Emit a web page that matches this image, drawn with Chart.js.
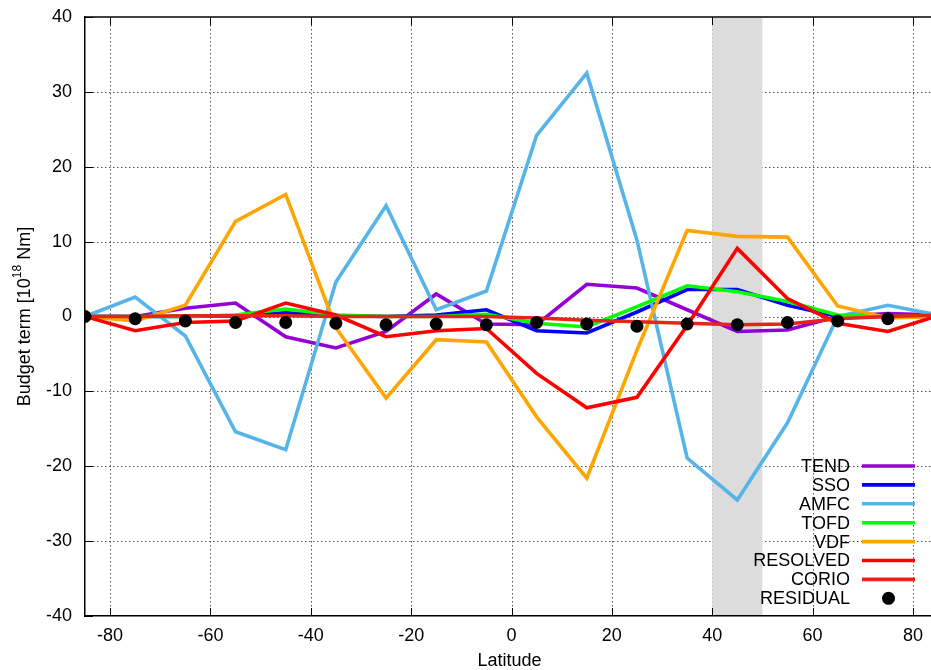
<!DOCTYPE html>
<html>
<head>
<meta charset="utf-8">
<script src="https://cdn.jsdelivr.net/npm/chart.js@4"></script>
<style>
  html, body { margin: 0; padding: 0; background: #fff; overflow: hidden; }
  #wrap { width: 931px; height: 670px; position: relative; }
</style>
</head>
<body>
<div id="wrap"><canvas id="c" width="931" height="670"></canvas></div>
<script>
// Zonal-mean angular momentum budget terms by latitude band
const latitudes = [-85, -75, -65, -55, -45, -35, -25, -15, -5, 5, 15, 25, 35, 45, 55, 65, 75, 85];

const tend     = [0, 0, 1.1, 1.8, -2.7, -4.2, -2.0, 3.0, -1.0, -1.1, 4.3, 3.8, 0.9, -2.0, -1.8, 0, 0.4, 0.2];
const sso      = [0, 0, 0, 0.1, 0.5, 0.1, 0, 0.2, 0.9, -1.9, -2.2, 0.6, 3.6, 3.6, 1.5, 0, 0, 0];
const amfc     = [0, 2.6, -2.6, -15.4, -17.8, 4.6, 14.8, 0.9, 3.4, 24.2, 32.5, 10.2, -18.9, -24.5, -14.2, 0, 1.5, 0.2];
const tofd     = [0, 0, 0, 0.2, 1.0, 0.2, 0, 0, 0.3, -0.9, -1.4, 1.3, 4.1, 3.3, 2.0, 0.2, 0, 0];
const vdf      = [0, -0.6, 1.5, 12.7, 16.3, -1.5, -10.9, -3.1, -3.4, -13.4, -21.6, -4.5, 11.5, 10.7, 10.6, 1.4, -0.2, 0];
const resolved = [0, -1.9, -0.8, -0.6, 1.8, 0.2, -2.7, -1.9, -1.6, -7.6, -12.2, -10.8, -1.2, 9.1, 2.4, -0.9, -2.0, 0.1];
const corio    = [0, 0, 0.1, 0.1, 0.1, 0, 0, 0, 0, -0.2, -0.5, -0.7, -0.9, -1.1, -1.0, -0.3, 0, 0.2];
const residual = [0, -0.3, -0.6, -0.8, -0.8, -0.9, -1.1, -1.0, -1.1, -0.8, -1.0, -1.3, -1.0, -1.1, -0.8, -0.6, -0.3, null];

const xTickValues = [-80, -60, -40, -20, 0, 20, 40, 60, 80];
const yTickValues = [-40, -30, -20, -10, 0, 10, 20, 30, 40];
const shadedBand = [40, 50];

const FONT = '"Liberation Sans", Arial, sans-serif';

const lineSeries = [
  { label: 'TEND',     data: tend,     color: '#9400D3' },
  { label: 'SSO',      data: sso,      color: '#0000FF' },
  { label: 'AMFC',     data: amfc,     color: '#56B4E9' },
  { label: 'TOFD',     data: tofd,     color: '#00FF00' },
  { label: 'VDF',      data: vdf,      color: '#FFA500' },
  { label: 'RESOLVED', data: resolved, color: '#FF0000' },
  { label: 'CORIO',    data: corio,    color: '#E4261A' }
];

const datasets = lineSeries.map((s, i) => ({
  label: s.label,
  data: latitudes.map((x, k) => ({ x: x, y: s.data[k] })),
  borderColor: s.color,
  backgroundColor: s.color,
  borderWidth: 3.6,
  pointRadius: 0,
  tension: 0,
  fill: false,
  order: 8 - i
}));
datasets.push({
  label: 'RESIDUAL',
  data: latitudes.map((x, k) => ({ x: x, y: residual[k] })),
  showLine: false,
  pointRadius: 6.5,
  pointBackgroundColor: '#000',
  pointBorderColor: '#000',
  pointBorderWidth: 0,
  order: 0
});

// Dotted grid, shaded latitude band, inward tick marks and the top border
const backdrop = {
  id: 'backdrop',
  beforeDatasetsDraw(chart) {
    const { ctx, chartArea: a, scales: { x, y } } = chart;
    ctx.save();
    ctx.strokeStyle = '#555';
    ctx.lineWidth = 1;
    ctx.setLineDash([1.5, 2.5]);
    xTickValues.forEach(v => {
      const px = Math.round(x.getPixelForValue(v)) + 0.5;
      ctx.beginPath(); ctx.moveTo(px, a.top); ctx.lineTo(px, a.bottom); ctx.stroke();
    });
    yTickValues.forEach(v => {
      if (v === -40 || v === 40) return;
      const py = Math.round(y.getPixelForValue(v)) + 0.5;
      ctx.beginPath(); ctx.moveTo(a.left, py); ctx.lineTo(a.right, py); ctx.stroke();
    });
    ctx.setLineDash([]);
    // shaded band
    const x0 = x.getPixelForValue(shadedBand[0]);
    const x1 = x.getPixelForValue(shadedBand[1]);
    ctx.fillStyle = '#DCDCDC';
    ctx.fillRect(x0, a.top + 1, x1 - x0, a.bottom - a.top - 2);
    // inward ticks
    ctx.strokeStyle = '#000';
    ctx.lineWidth = 1;
    xTickValues.forEach(v => {
      const px = Math.round(x.getPixelForValue(v)) + 0.5;
      ctx.beginPath(); ctx.moveTo(px, a.bottom); ctx.lineTo(px, a.bottom - 8); ctx.stroke();
      ctx.beginPath(); ctx.moveTo(px, a.top); ctx.lineTo(px, a.top + 8); ctx.stroke();
    });
    yTickValues.forEach(v => {
      const py = Math.round(y.getPixelForValue(v)) + 0.5;
      ctx.beginPath(); ctx.moveTo(a.left, py); ctx.lineTo(a.left + 8, py); ctx.stroke();
    });
    // top border
    ctx.lineWidth = 1.5;
    ctx.beginPath(); ctx.moveTo(a.left, a.top); ctx.lineTo(a.right, a.top); ctx.stroke();
    ctx.restore();
  },
  afterDraw(chart) {
    const { ctx, chartArea: a, scales: { x } } = chart;
    ctx.save();
    ctx.fillStyle = '#000';
    // x-axis title
    ctx.font = '18px ' + FONT;
    ctx.textAlign = 'center';
    ctx.textBaseline = 'middle';
    ctx.fillText('Latitude', x.getPixelForValue(0) - 2, 661);
    // y-axis title with superscript exponent
    const parts = [
      { t: 'Budget term [10', f: '18px ' + FONT, dy: 0 },
      { t: '18', f: '12px ' + FONT, dy: -7 },
      { t: ' Nm]', f: '18px ' + FONT, dy: 0 }
    ];
    let total = 0;
    parts.forEach(p => { ctx.font = p.f; p.w = ctx.measureText(p.t).width; total += p.w; });
    ctx.translate(25, (a.top + a.bottom) / 2);
    ctx.rotate(-Math.PI / 2);
    ctx.textAlign = 'left';
    ctx.textBaseline = 'middle';
    let cx = -total / 2;
    parts.forEach(p => { ctx.font = p.f; ctx.fillText(p.t, cx, p.dy); cx += p.w; });
    ctx.restore();

    // legend, bottom right inside the plot
    ctx.save();
    ctx.font = '18px ' + FONT;
    ctx.textAlign = 'right';
    ctx.textBaseline = 'middle';
    const textRight = 850, lineL = 862, lineR = 915, top = 466, step = 18.9;
    chart.data.datasets.forEach((ds, i) => {
      const yy = top + i * step;
      ctx.fillStyle = '#000';
      ctx.fillText(ds.label, textRight, yy + 1);
      if (ds.showLine === false) {
        ctx.beginPath();
        ctx.arc((lineL + lineR) / 2, yy, 6.5, 0, Math.PI * 2);
        ctx.fill();
      } else {
        ctx.strokeStyle = ds.borderColor;
        ctx.lineWidth = 3.6;
        ctx.beginPath(); ctx.moveTo(lineL, yy); ctx.lineTo(lineR, yy); ctx.stroke();
      }
    });
    ctx.restore();
  }
};

new Chart(document.getElementById('c'), {
  type: 'line',
  data: { datasets },
  options: {
    responsive: false,
    animation: false,
    devicePixelRatio: 1,
    layout: { autoPadding: false, padding: { top: 17, right: 0, left: 0, bottom: 0 } },
    plugins: { legend: { display: false }, tooltip: { enabled: false } },
    scales: {
      x: {
        type: 'linear',
        min: -85,
        max: 83.6,
        afterBuildTicks(scale) { scale.ticks = xTickValues.map(v => ({ value: v })); },
        afterFit(scale) { scale.height = 54; scale.paddingLeft = 0; scale.paddingRight = 0; },
        grid: { display: false, drawTicks: false },
        border: { display: true, color: '#000', width: 1.5 },
        ticks: { color: '#000', font: { family: FONT, size: 18 }, padding: 9, maxRotation: 0, autoSkip: false }
      },
      y: {
        type: 'linear',
        min: -40,
        max: 40,
        afterBuildTicks(scale) { scale.ticks = yTickValues.map(v => ({ value: v })); },
        afterFit(scale) { scale.width = 85; scale.paddingTop = 0; scale.paddingBottom = 0; },
        grid: { display: false, drawTicks: false },
        border: { display: true, color: '#000', width: 1.5 },
        ticks: { color: '#000', font: { family: FONT, size: 18 }, padding: 13 }
      }
    }
  },
  plugins: [backdrop]
});
</script>
</body>
</html>
